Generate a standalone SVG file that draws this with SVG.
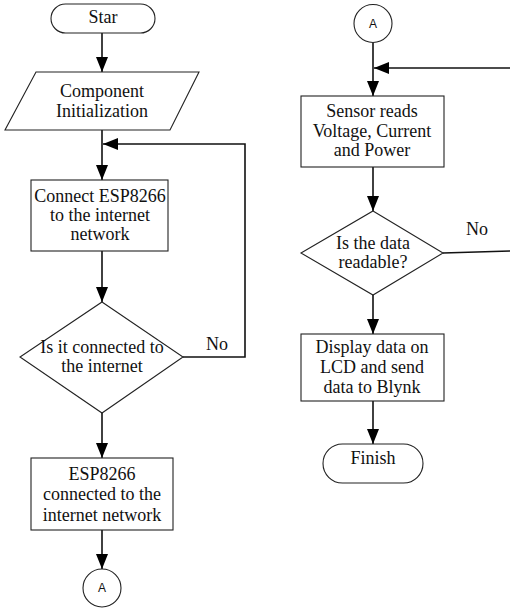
<svg xmlns="http://www.w3.org/2000/svg" width="510" height="609" viewBox="0 0 510 609">
<style>
.s{fill:#fff;stroke:#222;stroke-width:1.1}
.c{fill:none;stroke:#111;stroke-width:1.6}
.t{font-family:'Liberation Serif','Tinos','DejaVu Serif','Times New Roman',serif;font-size:18px;fill:#111;text-anchor:middle}
.a{font-family:'Liberation Sans',Arial,sans-serif;font-size:12px;fill:#111;text-anchor:middle}
</style>
<defs>
<marker id="ar" markerUnits="userSpaceOnUse" markerWidth="15" markerHeight="12" refX="15" refY="6" orient="auto">
<path d="M0,0 L15,6 L0,12 z" fill="#000"/>
</marker>
</defs>
<g id="connectors">
<line class="c" x1="102" y1="33" x2="102" y2="72" marker-end="url(#ar)"/>
<line class="c" x1="102" y1="130" x2="102" y2="180" marker-end="url(#ar)"/>
<line class="c" x1="102" y1="251" x2="102" y2="302" marker-end="url(#ar)"/>
<line class="c" x1="102" y1="413" x2="102" y2="458" marker-end="url(#ar)"/>
<line class="c" x1="102" y1="530" x2="102" y2="569" marker-end="url(#ar)"/>
<path class="c" d="M183,357 H245 V144 H103" marker-end="url(#ar)"/>
<line class="c" x1="373" y1="43" x2="373" y2="96" marker-end="url(#ar)"/>
<path class="c" d="M510,68 H374" marker-end="url(#ar)"/>
<line class="c" x1="373" y1="167" x2="373" y2="211" marker-end="url(#ar)"/>
<path class="c" d="M443,253 L510,251"/>
<line class="c" x1="373" y1="295" x2="373" y2="334" marker-end="url(#ar)"/>
<line class="c" x1="373" y1="401" x2="373" y2="444" marker-end="url(#ar)"/>
<text class="t" x="217" y="350">No</text>
<text class="t" x="477" y="235">No</text>
</g>
<g id="start">
<rect class="s" x="51" y="4" width="104" height="29" rx="14.5"/>
<text class="t" x="103" y="23">Star</text>
</g>
<g id="init">
<polygon class="s" points="36,72 199,72 170,130 5,130"/>
<text class="t" x="102" y="97">Component</text>
<text class="t" x="102" y="117">Initialization</text>
</g>
<g id="connect">
<rect class="s" x="31" y="180" width="137" height="71"/>
<text class="t" x="100" y="202">Connect ESP8266</text>
<text class="t" x="100" y="221">to the internet</text>
<text class="t" x="100" y="240">network</text>
</g>
<g id="check">
<polygon class="s" points="102,302 183,357 102,413 20,357"/>
<text class="t" x="102" y="353">Is it connected to</text>
<text class="t" x="102" y="372">the internet</text>
</g>
<g id="connected">
<rect class="s" x="31" y="458" width="142" height="72"/>
<text class="t" x="102" y="480">ESP8266</text>
<text class="t" x="102" y="500">connected to the</text>
<text class="t" x="102" y="521">internet network</text>
</g>
<g id="connA1">
<circle class="s" cx="102" cy="588" r="19"/>
<text class="a" x="102" y="592">A</text>
</g>
<g id="connA2">
<circle class="s" cx="373" cy="23.5" r="19"/>
<text class="a" x="373" y="28">A</text>
</g>
<g id="sensor">
<rect class="s" x="301" y="96" width="143" height="71"/>
<text class="t" x="372" y="117">Sensor reads</text>
<text class="t" x="372" y="137">Voltage, Current</text>
<text class="t" x="372" y="156">and Power</text>
</g>
<g id="readable">
<polygon class="s" points="373,211 443,253 373,295 301,253"/>
<text class="t" x="373" y="249">Is the data</text>
<text class="t" x="373" y="268">readable?</text>
</g>
<g id="display">
<rect class="s" x="301" y="334" width="143" height="67"/>
<text class="t" x="372" y="353">Display data on</text>
<text class="t" x="372" y="373">LCD and send</text>
<text class="t" x="372" y="393">data to Blynk</text>
</g>
<g id="finish">
<rect class="s" x="323" y="444" width="100" height="39" rx="19.5"/>
<text class="t" x="373" y="464">Finish</text>
</g>
</svg>
